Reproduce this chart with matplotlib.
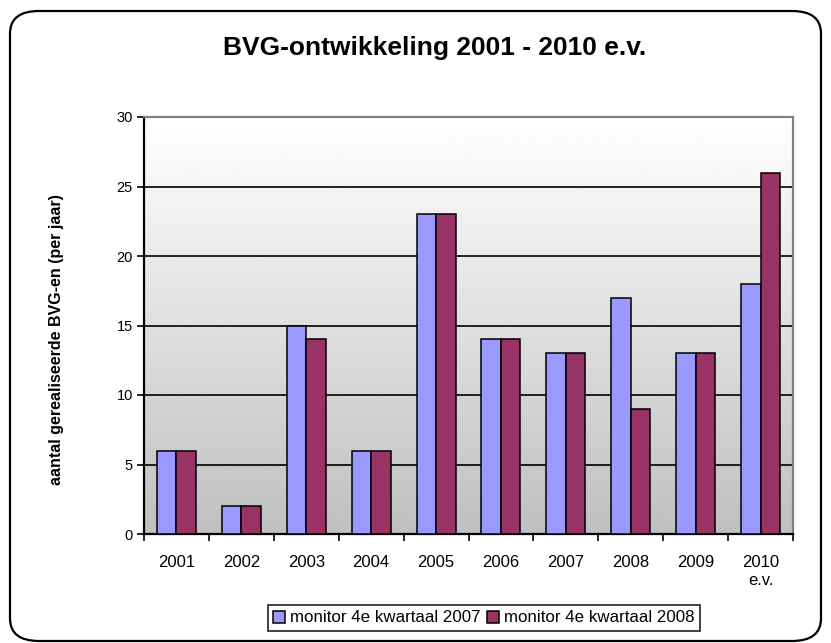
import numpy as np
import matplotlib
matplotlib.use("Agg")
import matplotlib.pyplot as plt
from matplotlib.patches import FancyBboxPatch

# ---
# DATA
# -----
years = ["2001", "2002", "2003", "2004", "2005", "2006", "2007", "2008", "2009", "2010\ne.v."]
monitor_2007 = [6, 2, 15, 6, 23, 14, 13, 17, 13, 18]
monitor_2008 = [6, 2, 14, 6, 23, 14, 13, 9, 13, 26]
series_labels = ["monitor 4e kwartaal 2007", "monitor 4e kwartaal 2008"]
yticks = [0, 5, 10, 15, 20, 25, 30]

plt.rcParams["font.family"] = ["Liberation Sans", "DejaVu Sans"]

W, H = 831, 643
fig = plt.figure(figsize=(W / 100, H / 100), dpi=100)

# rounded chart frame
frame = FancyBboxPatch((10 / W, 2 / H), 811 / W, 630 / H,
                       boxstyle="round,pad=0,rounding_size=0.035",
                       transform=fig.transFigure, facecolor="white",
                       edgecolor="black", linewidth=1.6, zorder=-10)
fig.patches.append(frame)

ax = fig.add_axes([144 / W, 1 - 534 / H, (793 - 144) / W, (534 - 117) / H])
ax.set_facecolor("none")

x = np.arange(len(years))
n = len(years)

# gradient background (white at top -> grey at bottom)
grad = np.linspace(1.0, 0.75, 256).reshape(-1, 1)
ax.imshow(grad, cmap="gray", vmin=0, vmax=1, aspect="auto",
          extent=[-0.5, n - 0.5, 0, 30], origin="upper", zorder=0)

# gridlines
for yv in yticks[1:-1]:
    ax.axhline(yv, color="black", linewidth=1.2, zorder=1)

w = 0.3
ax.bar(x - w / 2, monitor_2007, width=w, color="#9999FF", edgecolor="black",
       linewidth=1.1, label=series_labels[0], zorder=3)
ax.bar(x + w / 2, monitor_2008, width=w, color="#993366", edgecolor="black",
       linewidth=1.1, label=series_labels[1], zorder=3)

ax.set_xlim(-0.5, n - 0.5)
ax.set_ylim(0, 30)

ax.set_yticks(yticks)
ax.tick_params(axis="y", direction="out", length=5, width=1.2, labelsize=10.5, pad=3)

# x: tick marks between categories, labels at centres
ax.set_xticks(np.arange(-0.5, n, 1.0))
ax.set_xticklabels([])
ax.tick_params(axis="x", which="major", direction="out", length=5, width=1.2)
ax.set_xticks(x, minor=True)
ax.set_xticklabels(years, minor=True, fontsize=12, linespacing=1.3)
ax.tick_params(axis="x", which="minor", length=0, pad=15)

for s in ["left", "bottom"]:
    ax.spines[s].set_color("black")
    ax.spines[s].set_linewidth(1.6)
for s in ["top", "right"]:
    ax.spines[s].set_color("#808080")
    ax.spines[s].set_linewidth(1.6)

fig.text(435 / W, 1 - 48 / H, "BVG-ontwikkeling 2001 - 2010 e.v.",
         ha="center", va="center", fontsize=19, fontweight="bold")
fig.text(57 / W, 1 - 340 / H, "aantal gerealiseerde BVG-en (per jaar)",
         ha="center", va="center", rotation=90, fontsize=11.5, fontweight="bold")

leg = fig.legend(loc="center", bbox_to_anchor=(484 / W, 1 - 618 / H), ncol=2,
                 fontsize=12.2, frameon=True, fancybox=False, edgecolor="black",
                 handlelength=0.7, handleheight=0.7, handletextpad=0.3,
                 columnspacing=0.4, borderpad=0.3, borderaxespad=0)
leg.get_frame().set_linewidth(1.3)

fig.savefig("out.png", dpi=100)
